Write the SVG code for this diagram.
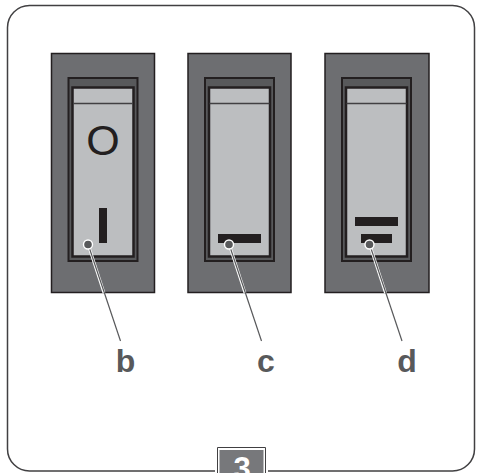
<svg xmlns="http://www.w3.org/2000/svg" width="483" height="473" viewBox="0 0 483 473">
<style>
.lbl{font-family:"Liberation Sans",Arial,sans-serif;font-weight:700;font-size:32px;fill:#58595b;text-anchor:middle}
.housing{fill:#6d6e71;stroke:#231f20;stroke-width:1.5}
.bezel{fill:#58595b;stroke:#231f20;stroke-width:2}
.face{fill:#bcbec0;stroke:#231f20;stroke-width:2.5}
.sep{stroke:#414042;stroke-width:1.3;fill:none}
.mark{fill:#231f20}
.dot{fill:#58595b;stroke:#fff;stroke-width:1.4}
.halo{stroke:#fff;stroke-width:2.8;fill:none}
.lead{stroke:#58595b;stroke-width:1.2;fill:none}
</style>
<rect width="483" height="473" fill="#fff"/>
<g id="frame">
<rect x="7.500" y="5.500" width="467" height="465.500" rx="22" fill="#fff" stroke="#414042" stroke-width="1.500"/>
<rect x="215" y="462" width="53" height="11" fill="#fff"/>
</g>
<g id="switch-b">
<rect class="housing" x="51.500" y="53.500" width="103" height="239"/>
<rect class="bezel" x="68.500" y="78" width="69" height="183"/>
<rect class="face" x="72.500" y="87.500" width="61" height="169"/>
<path class="sep" d="M73 103.500H133"/>
<text x="103" y="154.500" style="font-family:'Liberation Sans',Arial,sans-serif;font-size:43px;fill:#231f20;text-anchor:middle">O</text>
<rect class="mark" x="99" y="208" width="8" height="35"/>
</g>
<g id="switch-c">
<rect class="housing" x="188" y="53.500" width="103" height="239"/>
<rect class="bezel" x="205" y="78" width="69" height="183"/>
<rect class="face" x="209" y="87.500" width="61" height="169"/>
<path class="sep" d="M209.500 103.500H269.500"/>
<rect class="mark" x="218" y="234" width="43" height="9"/>
</g>
<g id="switch-d">
<rect class="housing" x="325" y="53.500" width="104" height="239"/>
<rect class="bezel" x="342" y="78" width="69" height="183"/>
<rect class="face" x="346" y="87.500" width="61" height="169"/>
<path class="sep" d="M346.500 103.500H406.500"/>
<rect class="mark" x="355" y="217" width="43" height="9"/>
<rect class="mark" x="361" y="234" width="31" height="9"/>
</g>
<g id="connectors">
<path class="halo" d="M88 244L104 293"/>
<path class="lead" d="M88 244L120.500 341"/>
<circle class="dot" cx="88" cy="244.500" r="4.500"/>
<path class="halo" d="M229 244L245 293"/>
<path class="lead" d="M229 244L261.500 341"/>
<circle class="dot" cx="229" cy="244.500" r="4.500"/>
<path class="halo" d="M369.500 244L385.500 293"/>
<path class="lead" d="M369.500 244L402 341"/>
<circle class="dot" cx="369.500" cy="244.500" r="4.500"/>
</g>
<g id="label-b"><text class="lbl" x="125.500" y="372">b</text></g>
<g id="label-c"><text class="lbl" x="266" y="372">c</text></g>
<g id="label-d"><text class="lbl" x="407" y="372">d</text></g>
<g id="tab-3">
<path d="M217.500 473V447.500H265.500V473" fill="#fff" stroke="#414042" stroke-width="1"/>
<rect x="219.500" y="450" width="44" height="23" fill="#77787b"/>
<text x="242" y="479" style="font-family:'Liberation Sans',Arial,sans-serif;font-weight:700;font-size:31px;fill:#fff;text-anchor:middle">3</text>
</g>
</svg>
